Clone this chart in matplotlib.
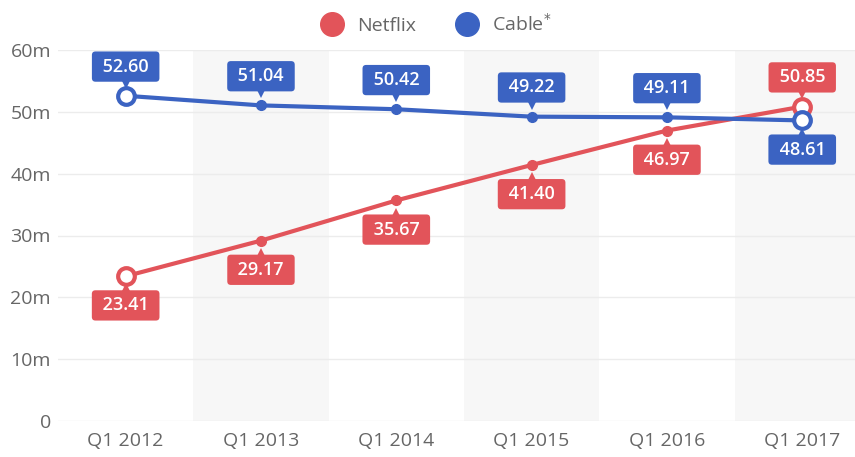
import matplotlib
matplotlib.use("Agg")
import matplotlib.pyplot as plt
import matplotlib.transforms as mtransforms
from matplotlib.lines import Line2D

plt.rcParams["font.family"] = ["Open Sans", "DejaVu Sans"]

# ── Data ───────────────────────────────────────────────────────────────────
quarters = ["Q1 2012", "Q1 2013", "Q1 2014", "Q1 2015", "Q1 2016", "Q1 2017"]
netflix = [23.41, 29.17, 35.67, 41.40, 46.97, 50.85]
cable = [52.60, 51.04, 50.42, 49.22, 49.11, 48.61]
netflix_above = [False, False, False, False, False, True]
cable_above = [True, True, True, True, True, False]
yticks = [0, 10, 20, 30, 40, 50, 60]
ytick_labels = ["0", "10m", "20m", "30m", "40m", "50m", "60m"]

RED = "#e2545a"
BLUE = "#3b63c2"
GRAY_TXT = "#666666"

fig = plt.figure(figsize=(8.55, 4.57), dpi=100)
ax = fig.add_axes([58 / 855, 36 / 457, 1 - 58 / 855, 371 / 457])

x = list(range(len(quarters)))
ax.set_xlim(-0.5, 5.39)
ax.set_ylim(0, 60)

# alternating bands
for i in x:
    if i % 2 == 1:
        ax.axvspan(i - 0.5, i + 0.5, color="#f7f7f7", zorder=0, lw=0)

for yv in yticks:
    ax.axhline(yv, color="#ececec", lw=1, zorder=1)

for s in ax.spines.values():
    s.set_visible(False)
ax.set_xticks(x)
ax.set_xticklabels(quarters, fontsize=14, color=GRAY_TXT)
ax.set_yticks(yticks)
ax.set_yticklabels(ytick_labels, fontsize=14, color=GRAY_TXT)
ax.tick_params(length=0, pad=8)
ax.tick_params(axis="y", pad=5)


def draw_series(vals, above, color):
    ax.plot(x, vals, color=color, lw=3, zorder=3, solid_capstyle="round")
    mid = x[1:-1]
    ax.plot(mid, vals[1:-1], "o", color=color, ms=7, zorder=4)
    ends = [x[0], x[-1]]
    ax.plot(ends, [vals[0], vals[-1]], "o", mfc="white", mec=color,
            mew=3, ms=12, zorder=5)
    for xi, v, up in zip(x, vals, above):
        dy = 21 if up else -21
        ax.annotate(f" {v:.2f} ", xy=(xi, v), xytext=(0, dy),
                    textcoords="offset points", ha="center", va="center",
                    fontsize=13, color="white", fontweight="semibold",
                    bbox=dict(boxstyle="round,pad=0.34,rounding_size=0.2",
                              fc=color, ec="none"), zorder=6)
        tri_off = 8 if up else -8
        tr = mtransforms.offset_copy(ax.transData, fig=fig, x=0, y=tri_off,
                                     units="points")
        ax.plot([xi], [v], marker="v" if up else "^", color=color, ms=6,
                mew=0, transform=tr, zorder=6, clip_on=False)


draw_series(netflix, netflix_above, RED)
draw_series(cable, cable_above, BLUE)

handles = [
    Line2D([], [], marker="o", ls="", color=RED, ms=17, label="Netflix"),
    Line2D([], [], marker="o", ls="", color=BLUE, ms=17, label="Cable$^{*}$"),
]
leg = fig.legend(handles=handles, loc="upper center", bbox_to_anchor=(0.505, 1.01),
                 ncol=2, frameon=False, fontsize=14, handletextpad=0.3,
                 columnspacing=1.6)
for t in leg.get_texts():
    t.set_color(GRAY_TXT)

fig.savefig("out.png", dpi=100)
